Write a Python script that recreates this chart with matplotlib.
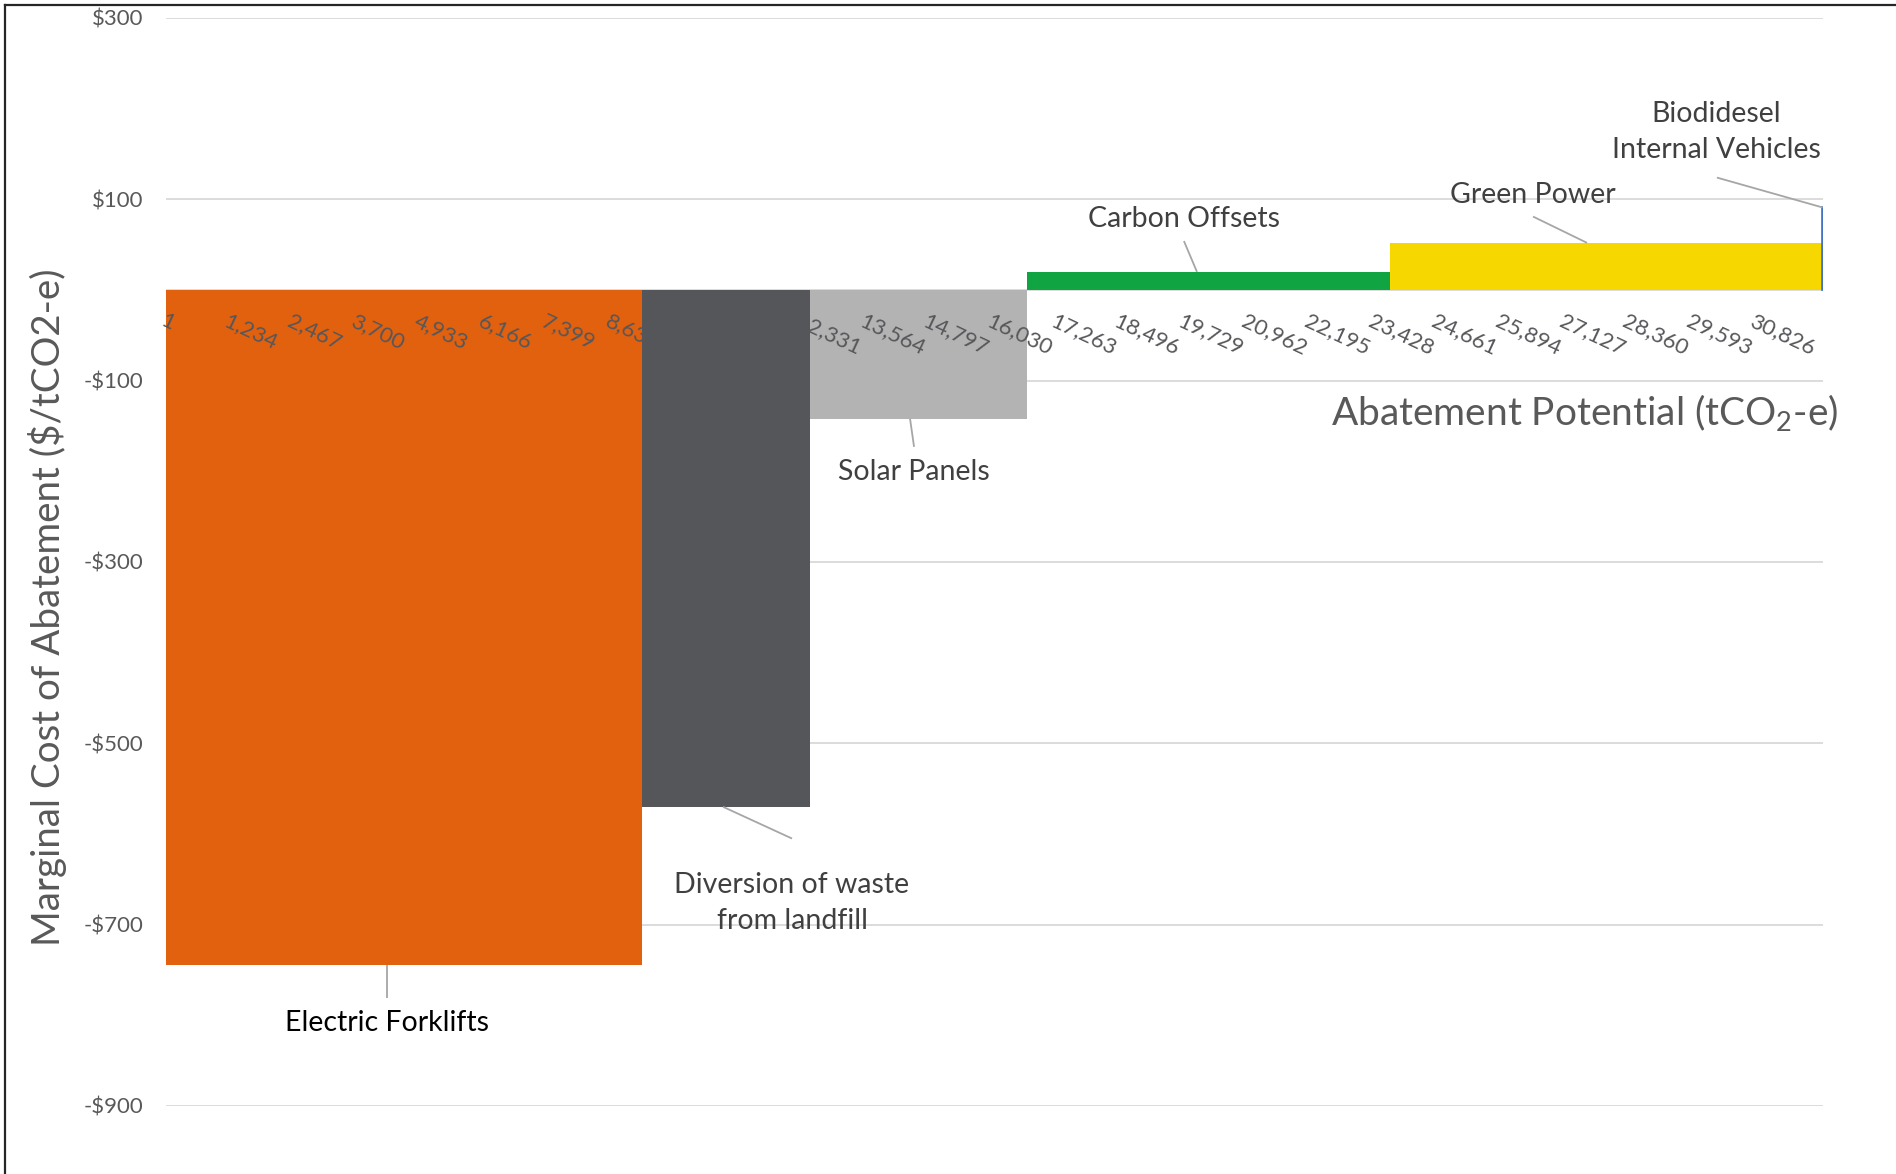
import matplotlib
matplotlib.use("Agg")
import matplotlib.pyplot as plt
from matplotlib.lines import Line2D
import numpy as np

plt.rcParams['font.family'] = ['Lato', 'DejaVu Sans']
plt.rcParams['mathtext.fontset'] = 'custom'
plt.rcParams['mathtext.rm'] = 'Lato'

# ---- data ----
measures = ["Electric Forklifts", "Diversion of waste\nfrom landfill", "Solar Panels",
            "Carbon Offsets", "Green Power", "Biodidesel\nInternal Vehicles"]
potential = [9236, 3258, 4219, 7032, 8369, 20]          # tCO2-e (bar widths)
cost = [-745, -570, -142, 20, 52, 91]                    # $/tCO2-e
colors = ["#E2610F", "#55565A", "#B3B3B3", "#10A443", "#F6D800", "#4472C4"]

xtick_vals = [1, 1234, 2467, 3700, 4933, 6166, 7399, 8632, 9865, 11098, 12331,
              13564, 14797, 16030, 17263, 18496, 19729, 20962, 22195, 23428,
              24661, 25894, 27127, 28360, 29593, 30826]
ytick_vals = [300, 100, -100, -300, -500, -700, -900]

# label placement (data coords): text centre, leader start, leader end
label_text_pos = [(4293, -809), (12147, -676), (14514, -201), (19747, 78), (26517, 105), (30064, 174)]
leader_from = [(4293, -781), (12147, -605), (14514, -173), (19747, 54), (26517, 81), (30083, 124)]
leader_to = [(4293, -745), (10809, -570), (14436, -142), (20000, 20), (27564, 52), (32133, 91)]
label_colors = ["#000000", "#404040", "#404040", "#404040", "#404040", "#404040"]

W, H = 1896, 1174
fig = plt.figure(figsize=(W / 100, H / 100), dpi=100)
ax = fig.add_axes([165.6 / W, 1 - 1106 / H, (1822.7 - 165.6) / W, (1106 - 18) / H])

lefts = np.concatenate([[0], np.cumsum(potential)[:-1]])
bars = ax.bar(lefts, cost, width=potential, align='edge', color=colors, linewidth=0, zorder=2)
bars[-1].set_edgecolor(colors[-1])
bars[-1].set_linewidth(1.2)

total = sum(potential)
ax.set_xlim(0, total)
ax.set_ylim(-900, 300)

# gridlines and zero line drawn beneath the bars
for v in ytick_vals:
    ax.axhline(v, color="#D9D9D9", linewidth=1.3, zorder=0.5)
ax.axhline(0, color="#D9D9D9", linewidth=1.3, zorder=0.5)

ax.set_yticks(ytick_vals)
ax.set_yticklabels([("-$" if v < 0 else "$") + f"{abs(v)}" for v in ytick_vals])

ax.set_xticks(xtick_vals)
ax.set_xticklabels([f"{v:,}" for v in xtick_vals])
for s in ['top', 'right', 'left', 'bottom']:
    ax.spines[s].set_visible(False)
ax.spines['bottom'].set_position(('data', 0))
ax.tick_params(axis='x', length=0, pad=15, labelsize=16, labelcolor="#56575A", labelrotation=-25)
ax.tick_params(axis='y', length=0, pad=16, labelsize=16, labelcolor="#595959")
for t in ax.get_xticklabels():
    t.set_horizontalalignment('left')
    t.set_verticalalignment('top')
    t.set_rotation_mode('anchor')
ax.xaxis.set_zorder(5)

for name, tp, lf, lt, c in zip(measures, label_text_pos, leader_from, leader_to, label_colors):
    ax.plot([lf[0], lt[0]], [lf[1], lt[1]], color="#A6A6A6", linewidth=1.3, zorder=3,
            solid_capstyle='butt')
    ax.text(tp[0], tp[1], name, ha='center', va='center', fontsize=20.5, color=c,
            linespacing=1.5, zorder=4)

fig.text(48 / W, 1 - 607 / H, "Marginal Cost of Abatement ($/tCO2-e)", rotation=90,
         ha='center', va='center', fontsize=27.7, color="#595959")
fig.text(1838 / W, 1 - 413 / H, "Abatement Potential (tCO$_2$-e)", ha='right', va='center',
         fontsize=28, color="#595959")

# outer frame (top and left edges visible)
fig.add_artist(Line2D([5 / W, 1], [1 - 5 / H, 1 - 5 / H], transform=fig.transFigure,
                      color="#262626", linewidth=1.6))
fig.add_artist(Line2D([5 / W, 5 / W], [0, 1 - 5 / H], transform=fig.transFigure,
                      color="#262626", linewidth=1.6))

fig.savefig("out.png", dpi=100, facecolor="white")
